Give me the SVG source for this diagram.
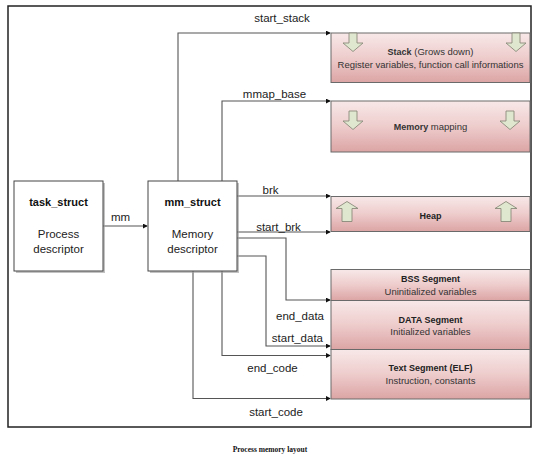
<svg xmlns="http://www.w3.org/2000/svg" width="540" height="460" viewBox="0 0 540 460">
<defs>
<linearGradient id="seg" x1="0" y1="0" x2="0" y2="1">
<stop offset="0" stop-color="#f8e8e8"/>
<stop offset="0.5" stop-color="#eecccc"/>
<stop offset="1" stop-color="#dca4a4"/>
</linearGradient>
<marker id="ah" viewBox="0 0 6 6" refX="5" refY="3" markerWidth="5" markerHeight="5" markerUnits="userSpaceOnUse" orient="auto">
<path d="M0,0 L6,3 L0,6 Z" fill="#111"/>
</marker>
<style>
.frame{fill:#fff;stroke:#222;stroke-width:1.5}
.box{fill:#fff;stroke:#444;stroke-width:1}
.shadow{fill:#999;opacity:0.6}
.seg{fill:url(#seg);stroke:#6a6a6a;stroke-width:1}
.blk{fill:#e0e7cf;stroke:#8a8a7a;stroke-width:0.9}
.conn{fill:none;stroke:#555;stroke-width:1.1;marker-end:url(#ah)}
.lbl{font-family:"Liberation Sans",Arial,sans-serif;font-size:11.5px;fill:#222}
.bt{font-family:"Liberation Sans",Arial,sans-serif;font-size:11px;font-weight:bold;fill:#111;text-anchor:middle}
.bn{font-family:"Liberation Sans",Arial,sans-serif;font-size:11.5px;fill:#222;text-anchor:middle}
.st{font-family:"Liberation Sans",Arial,sans-serif;font-size:9px;font-weight:bold;fill:#222;text-anchor:middle}
.sn{font-family:"Liberation Sans",Arial,sans-serif;font-size:9.5px;fill:#333;text-anchor:middle}
.cap{font-family:"Liberation Serif","Times New Roman",serif;font-size:7.5px;font-weight:bold;fill:#111;text-anchor:middle}
</style>
</defs>
<rect class="frame" x="8" y="6" width="523" height="421"/>

<g id="connectors">
<path class="conn" d="M103,226 H147"/>
<path class="conn" d="M178,181 V33 H330"/>
<path class="conn" d="M222,181 V101 H330"/>
<path class="conn" d="M237,196 H330"/>
<path class="conn" d="M237,232 H330"/>
<path class="conn" d="M237,238 H286 V300 H330"/>
<path class="conn" d="M237,256 H266 V346 H330"/>
<path class="conn" d="M222,271 V355.5 H330"/>
<path class="conn" d="M193,271 V398.5 H330"/>
<text class="lbl" x="120.5" y="220.5" text-anchor="middle">mm</text>
<text class="lbl" x="282" y="22" text-anchor="middle">start_stack</text>
<text class="lbl" x="274.5" y="98" text-anchor="middle">mmap_base</text>
<text class="lbl" x="270.5" y="194" text-anchor="middle">brk</text>
<text class="lbl" x="278.5" y="230.5" text-anchor="middle">start_brk</text>
<text class="lbl" x="324" y="319.5" text-anchor="end">end_data</text>
<text class="lbl" x="323" y="341.5" text-anchor="end">start_data</text>
<text class="lbl" x="272.5" y="372" text-anchor="middle">end_code</text>
<text class="lbl" x="276" y="416" text-anchor="middle">start_code</text>
</g>

<g id="task_struct">
<rect class="shadow" x="16" y="183" width="89" height="90"/>
<rect class="box" x="14" y="181" width="89" height="90"/>
<text class="bt" x="58.5" y="206">task_struct</text>
<text class="bn" x="58.5" y="238">Process</text>
<text class="bn" x="58.5" y="253">descriptor</text>
</g>

<g id="mm_struct">
<rect class="shadow" x="150" y="183" width="89" height="90"/>
<rect class="box" x="148" y="181" width="89" height="90"/>
<text class="bt" x="192.5" y="206">mm_struct</text>
<text class="bn" x="192.5" y="238">Memory</text>
<text class="bn" x="192.5" y="253">descriptor</text>
</g>

<g id="stack">
<rect class="seg" x="331" y="33" width="199" height="49.5"/>
<path class="blk" d="M349,33 H357 V43 H363 L353,51.5 L343,43 H349 Z"/>
<path class="blk" d="M512,33 H520 V43 H526 L516,51.5 L506,43 H512 Z"/>
<text class="sn" x="430.5" y="55"><tspan font-weight="bold" font-size="9px">Stack</tspan> (Grows down)</text>
<text class="sn" x="430.5" y="67.5">Register variables, function call informations</text>
</g>

<g id="memory_mapping">
<rect class="seg" x="331" y="101" width="199" height="51"/>
<path class="blk" d="M349,111 H357 V121 H363 L353,129.5 L343,121 H349 Z"/>
<path class="blk" d="M506,111 H514 V121 H520 L510,129.5 L500,121 H506 Z"/>
<text class="sn" x="430.5" y="130"><tspan font-weight="bold" font-size="9px">Memory</tspan> mapping</text>
</g>

<g id="heap">
<rect class="seg" x="331" y="196.5" width="199" height="35"/>
<path class="blk" d="M342,221.5 H352 V208.5 H358 L347,201.5 L336,208.5 H342 Z"/>
<path class="blk" d="M501,221.5 H511 V208.5 H517 L506,201.5 L495,208.5 H501 Z"/>
<text class="st" x="430.5" y="218.5">Heap</text>
</g>

<g id="bss">
<rect class="seg" x="331" y="269.5" width="199" height="31"/>
<text class="st" x="430.5" y="281.5">BSS Segment</text>
<text class="sn" x="430.5" y="294.5">Uninitialized variables</text>
</g>

<g id="data">
<rect class="seg" x="331" y="300.5" width="199" height="49"/>
<text class="st" x="430.5" y="322.5">DATA Segment</text>
<text class="sn" x="430.5" y="335">Initialized variables</text>
</g>

<g id="text_segment">
<rect class="seg" x="331" y="349.5" width="199" height="49.5"/>
<text class="st" x="430.5" y="371">Text Segment (ELF)</text>
<text class="sn" x="430.5" y="384">Instruction, constants</text>
</g>

<text class="cap" x="270" y="451.5">Process memory layout</text>
</svg>
